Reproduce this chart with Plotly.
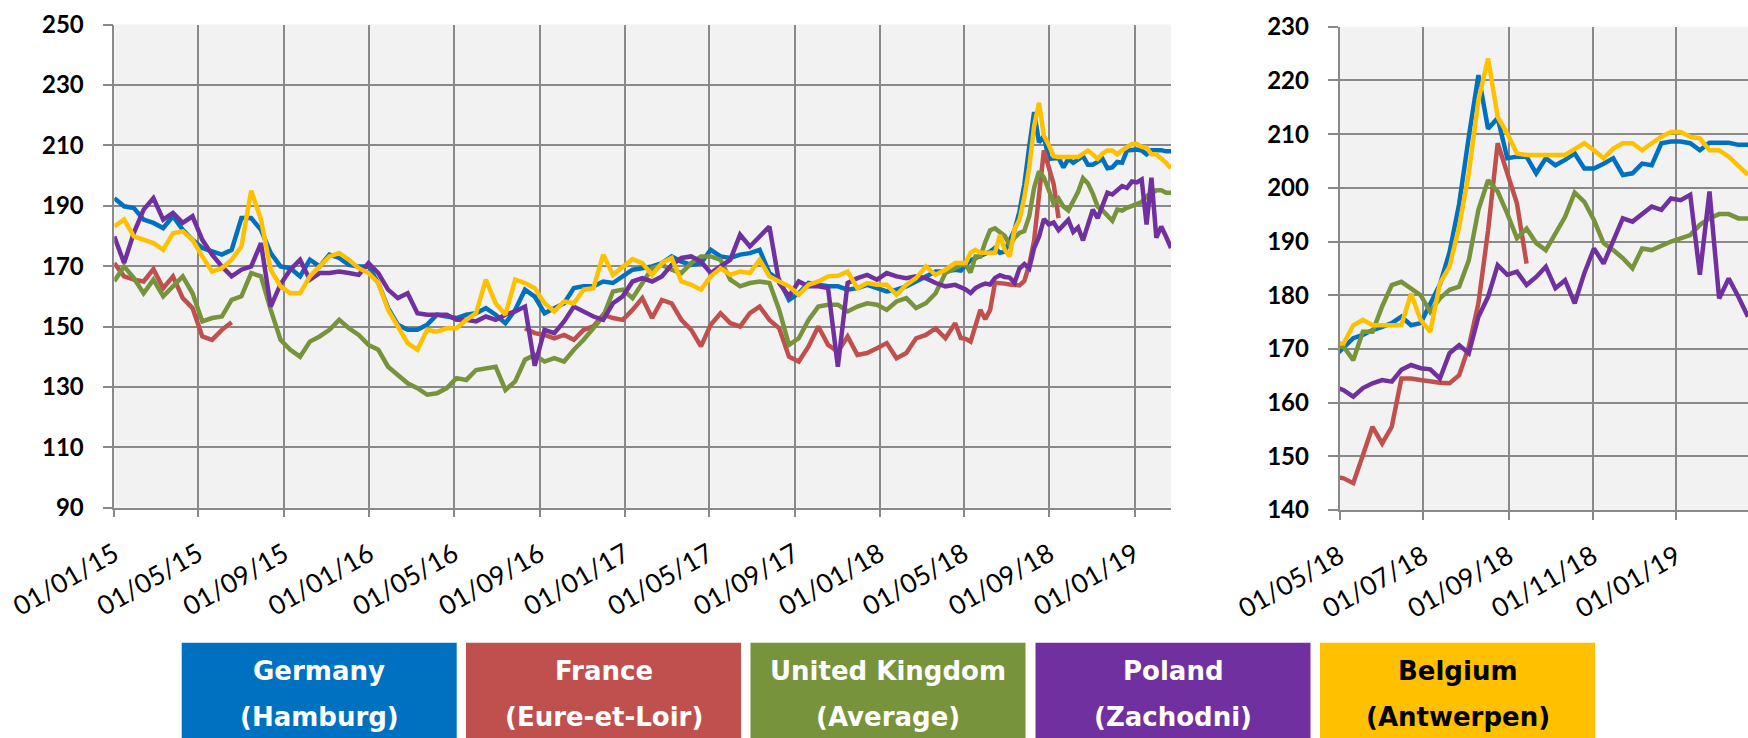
import pandas as pd
import plotly.graph_objects as go

# ---------------- data ----------------
# bi-weekly readings (2015-01-01 .. 2018-04-19) then weekly readings (2018-04-27 .. 2019-02-22)
dates_biweekly = list(pd.date_range("2015-01-01", "2018-04-19", freq="14D"))
dates_weekly = list(pd.date_range("2018-04-27", "2019-02-22", freq="7D"))
dates = dates_biweekly + dates_weekly

series_names = ["Germany (Hamburg)", "France (Eure-et-Loir)", "United Kingdom (Average)",
                "Poland (Zachodni)", "Belgium (Antwerpen)"]

germany = [
    192.5, 189.8, 189.2, 185.4, 184.3, 182.6, 186.5, 182, 178.7, 176,
    174.9, 173.8, 175.4, 185.9, 185.9, 182, 174.3, 169.9, 169.3, 166.6,
    172.1, 169.9, 173.8, 172.7, 170.4, 169.9, 169.9, 164.4, 156.1, 150.6,
    148.9, 148.9, 150.6, 153.9, 153.3, 152.8, 153.9, 154.4, 156.1, 153.9,
    151.1, 155.5, 162.2, 159.9, 154.4, 156.1, 157.7, 162.7, 163.3,
    163.3, 164.9, 164.4, 166.6, 168.8, 169.3, 169.9, 171, 173.2, 171.5,
    170.4, 171, 175.4, 173.2, 172.7, 173.8, 174.3, 175.4, 167.7, 165.5,
    158.8, 161, 164.4, 163.8, 163.3, 163.3, 162.2, 162.7, 163.8, 162.7,
    161.6, 162.2, 163.3, 164.9, 166.6, 168.2, 168.2, 168.8,
    # weekly
    168.5, 170.4, 172, 172.6, 173.5, 174.1, 174.8, 176, 174.4, 174.8,
    178.5, 182, 188, 197, 209.5, 221, 211, 213, 205.5, 205.8,
    205.8, 202.7, 205.5, 204.2, 205.2, 206.4, 203.6, 203.6, 204.5, 205.5,
    202.4, 202.7, 204.5, 204.2, 208.3, 208.6, 208.6, 208.3, 207, 208.4,
    208.4, 208.4, 208, 208,
]

france = [
    171, 166.6, 165.5, 164.9, 169, 162.7, 166.6, 159.4, 156.1, 146.7,
    145.6, 148.9, 151.4,
    None, None, None, None, None, None, None, None, None, None,
    None, None, None, None, None, None, None, None, None, None,
    None, None, None, None, None, None, None, None, None,
    149.4, 147.8, 147.2, 146.1, 147.2, 145.6, 148.9,
    150, 153.9, 152.8, 152.2, 155.5, 159.4, 152.8, 158.8, 157.7, 152.2,
    148.9, 143.4, 150.6, 154.4, 151.1, 150, 154.4, 156.6, 152.2, 149.4,
    140, 138.4, 143.4, 150, 143.9, 141.7, 146.7, 140.6, 141.2, 142.8,
    144.5, 139.5, 141.2, 146.1, 147.2, 149.4, 146.1, 151.1,
    # weekly
    146.2, 145.9, 145, 150.2, 155.5, 152.4, 155.5, 164.5, 164.5, 164.2,
    163.9, 163.7, 163.6, 165.1, 170.4, 178.5, 192, 208.3, 202.7, 197.1,
    185.9,
    None, None, None, None, None, None, None, None, None, None,
    None, None, None, None, None, None, None, None, None, None,
    None, None, None,
]

united_kingdom = [
    165, 169.9, 166, 161, 165.5, 160, 163.3, 166.6, 161, 151.7,
    152.8, 153.3, 158.8, 160, 167.7, 166.6, 155.5, 145.6, 142.3, 140,
    145, 146.7, 148.9, 152.2, 149.4, 147.2, 143.9, 142.3, 136.7, 134,
    131.2, 129.6, 127.4, 127.9, 129.6, 132.9, 132.3, 135.6, 136.2, 136.7,
    129, 131.8, 139, 140.6, 138.4, 139.5, 138.4, 142.3, 145.6,
    149.4, 153.3, 161.6, 162.2, 159.4, 164.4, 169.3, 170.4, 168.8, 167.7,
    171, 173.2, 173.2, 172.1, 165.5, 163.3, 164.4, 164.9, 164.4, 155.5,
    143.9, 146.1, 152.2, 156.6, 157.2, 157.2, 155, 156.6, 157.7, 157.2,
    155.5, 158.3, 159.4, 156.1, 157.7, 161, 167.7, 169.3,
    # weekly
    170.4, 170.4, 167.9, 173.2, 173.2, 177.9, 181.9, 182.5, 181.3, 180,
    176.9, 179.4, 181, 181.6, 186.5, 195.9, 201.4, 199.3, 195.2, 190.6,
    192.4, 189.7, 188.4, 191.5, 194.6, 199.1, 197.4, 194, 189.7, 188.4,
    186.9, 185, 188.7, 188.4, 189.3, 190, 190.6, 191.2, 193.1, 194.3,
    195.1, 195.1, 194.3, 194.3,
]

poland = [
    179.8, 171, 181, 188.7, 192.5, 185.4, 187.6, 184.3, 186.5, 178.7,
    173.8, 169.9, 166.6, 168.8, 169.9, 177.6, 156.6, 164, 168.8, 172.1,
    165.5, 167.7, 167.7, 168.2, 167.7, 167.1, 171, 167.7, 162.2, 159.4,
    161, 154.4, 153.9, 153.9, 153.9, 152.2, 152.2, 151.7, 153.3, 152.2,
    153.9, 155, 156.6, 137, 148.9, 147.8, 151.7, 156.6, 155,
    153.3, 152.2, 157.7, 160, 164.9, 166, 164.9, 166.6, 170.4, 172.7,
    173.2, 171.5, 167.7, 169.9, 172.1, 180.4, 176.5, 179.8, 183.1, 164.4,
    160, 164.9, 163.3, 163.3, 162.7, 136.7, 164.4, 166, 167.1, 165.5,
    167.7, 166.6, 166, 166.6, 166, 164.4, 163.3, 163.8,
    # weekly
    163, 162.3, 161.1, 162.7, 163.6, 164.2, 163.9, 166.1, 167, 166.4,
    166.2, 164.5, 169.2, 170.7, 169.2, 176, 179.7, 185.6, 183.8, 184.4,
    181.9, 183.4, 185.3, 181.3, 182.8, 178.5, 184.1, 188.7, 185.9, 190.3,
    194.3, 193.7, 195.2, 196.5, 195.9, 198, 197.7, 198.7, 183.8, 199.3,
    179.4, 183.1, 179.7, 176,
]

belgium = [
    183.1, 185.4, 179.8, 178.7, 177.6, 175.4, 180.9, 181.5, 178.7, 173.2,
    168.2, 169.3, 172.1, 176.5, 195, 185.4, 168.8, 163.3, 161, 161,
    166.6, 169.9, 173.2, 174.3, 172.1, 169.3, 167.7, 164.4, 155.5, 150,
    144.5, 142.3, 148.9, 148.3, 149.4, 149.4, 152.2, 154.4, 165.5, 157.7,
    153.9, 165.5, 164.4, 162.7, 157.7, 155, 158.3, 157.7, 162.2,
    162.7, 173.8, 167.1, 169.9, 172.3, 171, 167.1, 171, 172.7, 164.9,
    163.8, 162.2, 166.6, 169.3, 167.1, 168.2, 167.7, 172.1, 166.6, 164.9,
    163.3, 160.5, 163.8, 164.9, 166.6, 166.8, 168.2, 162.7, 164.4, 163.8,
    163.8, 160.5, 163.8, 166, 169.9, 167.1, 168.8, 171,
    # weekly
    171, 171, 174.4, 175.4, 174.4, 174.4, 174.4, 174.4, 180.3, 175.4,
    173.2, 182.2, 185.3, 192.8, 202.7, 216.3, 224.1, 213.2, 210.1, 206.4,
    206.1, 206.1, 206.1, 206.1, 206.1, 207.2, 208.3, 207, 205.5, 207.3,
    208.3, 208.3, 207, 208.3, 209.5, 210.4, 210.4, 209.5, 209.2, 207,
    207, 205.8, 204.2, 202.4,
]

legend_line1 = ["Germany", "France", "United Kingdom", "Poland", "Belgium"]
legend_line2 = ["(Hamburg)", "(Eure-et-Loir)", "(Average)", "(Zachodni)", "(Antwerpen)"]

left_ticks = ["2015-01-01", "2015-05-01", "2015-09-01", "2016-01-01", "2016-05-01",
              "2016-09-01", "2017-01-01", "2017-05-01", "2017-09-01", "2018-01-01",
              "2018-05-01", "2018-09-01", "2019-01-01"]
right_ticks = ["2018-05-01", "2018-07-01", "2018-09-01", "2018-11-01", "2019-01-01"]

# ---------------- styling ----------------
colors = ["#0070C0", "#C0504D", "#77933C", "#7030A0", "#FFC000"]
text_colors = ["white", "white", "white", "white", "black"]
W, H = 1748, 738
GRID = "#898989"
TICK_FONT = dict(family="Lato", size=26.5, color="black")
YTICK_FONT = dict(family="Lato", size=24, color="black", weight="bold")


def lbl(d):
    y, m, dd = d.split("-")
    return f"{dd}/{m}/{y[2:]}"


fig = go.Figure()
all_values = [germany, france, united_kingdom, poland, belgium]
for xa, ya in (("x", "y"), ("x2", "y2")):
    for name, vals, col in zip(series_names, all_values, colors):
        fig.add_trace(go.Scatter(
            x=dates, y=vals, mode="lines", name=name, xaxis=xa, yaxis=ya,
            line=dict(color=col, width=4.5), showlegend=False, hoverinfo="skip"))

common_x = dict(type="date", showgrid=True, gridcolor=GRID, gridwidth=1.5,
                showline=True, linecolor=GRID, linewidth=1.5,
                ticks="outside", ticklen=8, tickcolor=GRID, tickwidth=1.5,
                tickangle=-30, tickfont=TICK_FONT, zeroline=False, automargin=False,
                ticklabelstandoff=11)
common_y = dict(showgrid=True, gridcolor=GRID, gridwidth=1.5,
                showline=True, linecolor=GRID, linewidth=1.5,
                ticks="outside", ticklen=10, tickcolor=GRID, tickwidth=1.5,
                tickfont=YTICK_FONT, zeroline=False, ticklabelstandoff=14,
                automargin=False)

fig.update_layout(
    width=W, height=H,
    margin=dict(l=0, r=0, t=0, b=0, autoexpand=False),
    paper_bgcolor="white", plot_bgcolor="#F2F2F2",
    showlegend=False,
    xaxis=dict(common_x, domain=[114.3 / W, 1171 / W],
               range=["2015-01-01", "2019-02-22"],
               tickvals=left_ticks, ticktext=[lbl(t) for t in left_ticks]),
    yaxis=dict(common_y, domain=[1 - 507.7 / H, 1 - 24.5 / H],
               range=[90, 250], tickvals=[90, 110, 130, 150, 170, 190, 210, 230, 250]),
    xaxis2=dict(common_x, domain=[1339.5 / W, 1.0],
                range=["2018-05-01", "2019-02-22"], anchor="y2",
                tickvals=right_ticks, ticktext=[lbl(t) for t in right_ticks]),
    yaxis2=dict(common_y, domain=[1 - 510 / H, 1 - 26.7 / H], anchor="x2",
                range=[140, 230], tickvals=list(range(140, 231, 10))),
)

# legend boxes (drawn as a row of coloured panels under the charts)
box_left = [181.7, 466, 750.5, 1035.5, 1320]
box_w = 275
for i in range(5):
    x0 = box_left[i]
    fig.add_shape(type="rect", xref="paper", yref="paper",
                  x0=x0 / W, x1=(x0 + box_w) / W, y0=-0.05, y1=1 - 642.7 / H,
                  fillcolor=colors[i], line=dict(width=0), layer="above")
    cx = (x0 + box_w / 2) / W
    fig.add_annotation(xref="paper", yref="paper", x=cx, y=1 - 671 / H,
                       text=f"<b>{legend_line1[i]}</b>", showarrow=False,
                       font=dict(family="DejaVu Sans", size=26, color=text_colors[i]),
                       xanchor="center", yanchor="middle")
    fig.add_annotation(xref="paper", yref="paper", x=cx, y=1 - 717 / H,
                       text=f"<b>{legend_line2[i]}</b>", showarrow=False,
                       font=dict(family="DejaVu Sans", size=26, color=text_colors[i]),
                       xanchor="center", yanchor="middle")

fig.write_html("out.html", config={"displayModeBar": False},
               post_script="document.body.style.margin='0';document.body.style.overflow='hidden';")
